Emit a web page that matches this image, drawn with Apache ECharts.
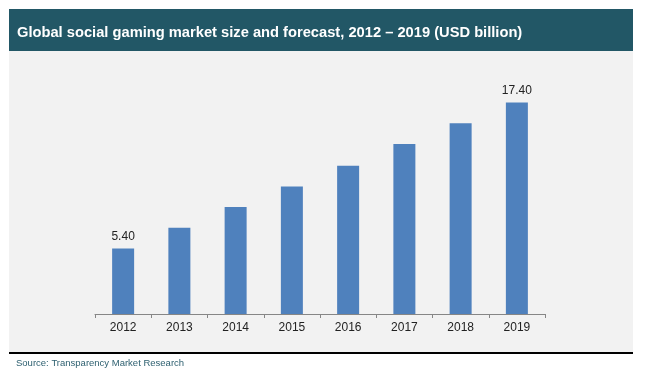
<!DOCTYPE html>
<html>
<head>
<meta charset="utf-8">
<script src="https://cdn.jsdelivr.net/npm/echarts@6/dist/echarts.min.js"></script>
<style>
html,body{margin:0;padding:0;background:#fff;}
#c{width:646px;height:383px;}
</style>
</head>
<body>
<div id="c"></div>
<script>
var categories = ['2012','2013','2014','2015','2016','2017','2018','2019'];
var values = [5.4, 7.1, 8.8, 10.5, 12.2, 14.0, 15.7, 17.4];
var labeledIdx = [0, 7];
var titleText = 'Global social gaming market size and forecast, 2012 \u2013 2019 (USD billion)';
var sourceText = 'Source: Transparency Market Research';

var chart = echarts.init(document.getElementById('c'));
chart.setOption({
  animation: false,
  backgroundColor: '#ffffff',
  graphic: [
    {type:'rect', z:-10, shape:{x:9,y:9,width:624,height:42}, style:{fill:'#225766'}},
    {type:'rect', z:-10, shape:{x:9,y:51,width:624,height:301}, style:{fill:'#f2f2f2'}},
    {type:'rect', z:-10, shape:{x:9,y:352,width:624,height:2}, style:{fill:'#000000'}},
    {type:'text', left:16, top:358, style:{text:sourceText, fill:'#2e6070', font:'9.5px "Liberation Sans", Arial, sans-serif'}}
  ],
  title: {
    text: titleText,
    left: 12, top: 20,
    textStyle: {color:'#ffffff', fontSize:14.7, fontWeight:'bold', fontFamily:'"Liberation Sans", Arial, sans-serif'}
  },
  grid: {left:95, right:101, top:71, bottom:69},
  xAxis: {
    type:'category',
    data: categories,
    axisLine:{lineStyle:{color:'#868686', width:1}},
    axisTick:{show:true, length:4, alignWithLabel:false, lineStyle:{color:'#868686'}},
    axisLabel:{color:'#222', fontSize:12, margin:8, fontFamily:'"Liberation Sans", Arial, sans-serif'}
  },
  yAxis: {
    type:'value', min:0, max:20, show:false
  },
  series: [{
    type:'bar',
    barWidth:22,
    itemStyle:{color:'#4f81bd'},
    data: values.map(function(v,i){
      return {value:v, label:{show: labeledIdx.indexOf(i) >= 0}};
    }),
    label:{
      position:'top', distance:6, color:'#222', fontSize:12,
      fontFamily:'"Liberation Sans", Arial, sans-serif',
      formatter:function(p){return p.value.toFixed(2);}
    }
  }]
});
</script>
</body>
</html>
